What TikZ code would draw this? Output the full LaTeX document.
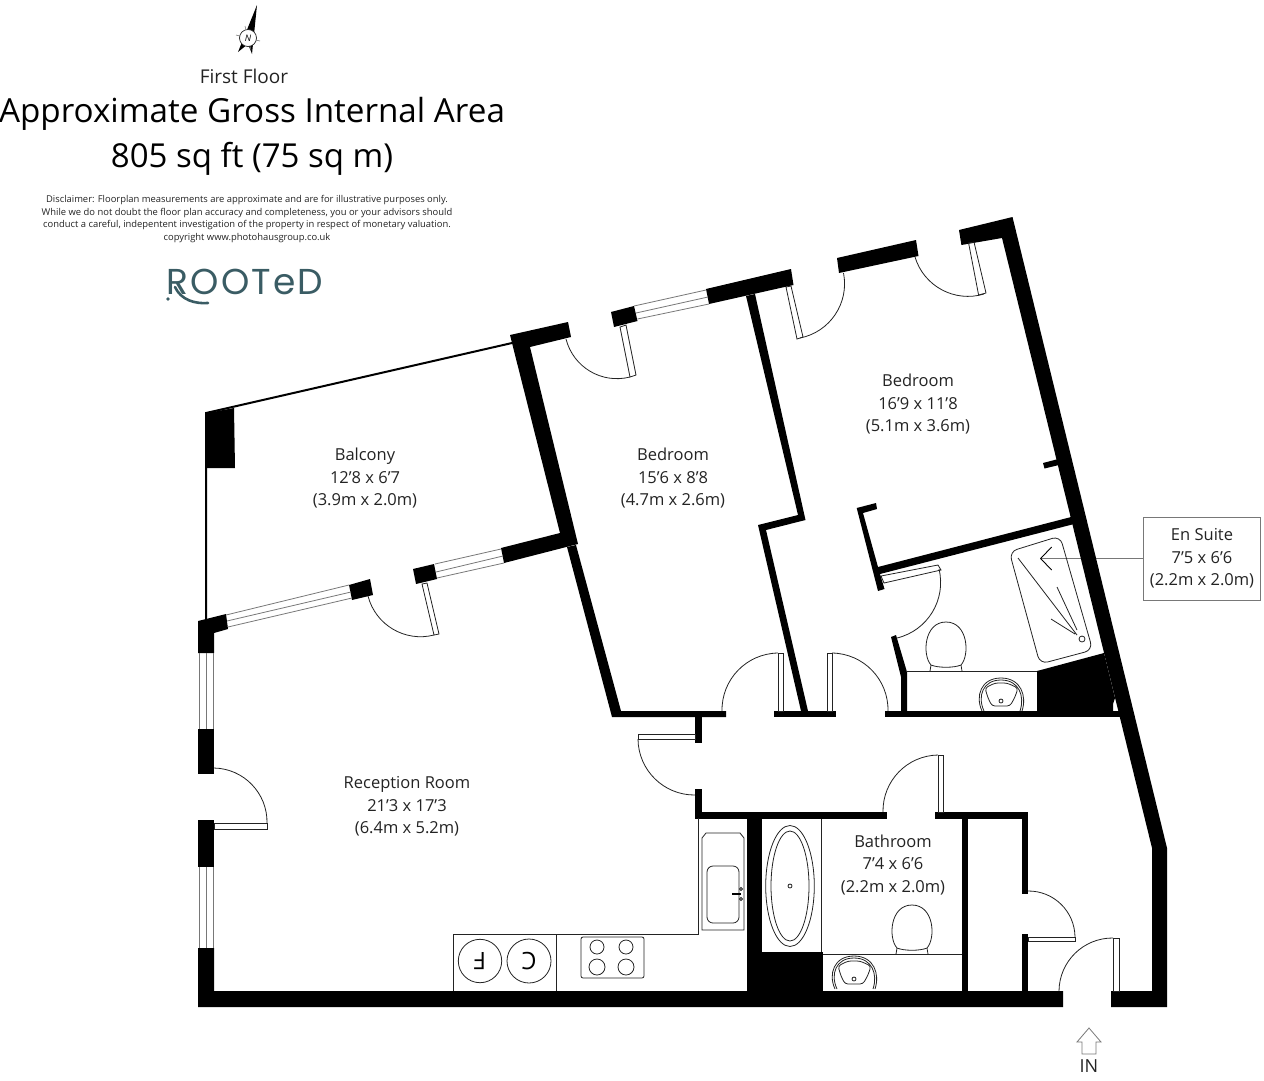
\documentclass[tikz,border=0pt]{standalone}
\usepackage{fontspec}
\setmainfont{Open Sans}
\newfontfamily\logofont{Poppins}
\usetikzlibrary{arrows.meta}
\definecolor{wallblack}{RGB}{0, 0, 0}
\definecolor{linedark}{RGB}{35, 35, 35}
\definecolor{glassgrey}{RGB}{120, 120, 120}
\definecolor{logoteal}{RGB}{58, 92, 100}
\tikzset{
  wall/.style={fill=wallblack},
  thinwall/.style={draw=wallblack, line width=2pt},
  fixture/.style={draw=linedark, line width=0.8pt},
  glass/.style={draw=glassgrey, line width=0.8pt},
  swing/.style={draw=linedark, line width=0.8pt},
  roomlabel/.style={align=center, inner sep=0pt, text=linedark, font=\fontsize{16.5}{22.5}\selectfont},
  toilet/.pic={
    \draw[fixture] (-15,-6) .. controls (-24,-16) and (-22,-49) .. (0,-49) .. controls (22,-49) and (24,-16) .. (15,-6) .. controls (8,-3) and (-8,-3) .. cycle;
    \draw[fixture] (-16,0) -- (-15,-6) (16,0) -- (15,-6);
  },
  basin/.pic={
    \draw[fixture] (-19,10) .. controls (-26,-5) and (-20,-23) .. (0,-23) .. controls (20,-23) and (26,-5) .. (21,10);
    \draw[fixture] (-17,10) .. controls (-24,-5) and (-18,-21) .. (0,-21) .. controls (18,-21) and (24,-5) .. (19,10);
    \draw[fixture, rounded corners=3pt] (-16,-13) -- (-6,-18) -- (6,-18) -- (17,-13) -- (14,-4) -- (9,5) -- (-9,5) -- (-13,-3) -- cycle;
    \draw[fixture] (0,0) circle (2);
  }
}

\begin{document}
\begin{tikzpicture}[x=1pt, y=-1pt]
  \useasboundingbox (0,0) rectangle (1264,1080);

  % headings
  \node[inner sep=0pt, text=linedark, font=\fontsize{19}{22}\selectfont] (floorname) at (244,76) {First Floor};
  \node[inner sep=0pt, font=\fontsize{33.2}{38}\selectfont] (areatitle) at (252,114) {Approximate Gross Internal Area};
  \node[inner sep=0pt, font=\fontsize{33}{38}\selectfont] (areavalue) at (252,159) {805 sq ft (75 sq m)};
  \node[inner sep=0pt, align=center, text=linedark, font=\fontsize{9.4}{12.6}\selectfont] (disclaimer) at (247,219) {Disclaimer: Floorplan measurements are approximate and are for illustrative purposes only.\\While we do not doubt the floor plan accuracy and completeness, you or your advisors should\\conduct a careful, indepentent investigation of the property in respect of monetary valuation.\\copyright www.photohausgroup.co.uk};

  % logo
  \node[inner sep=0pt, text=logoteal, font=\logofont\fontsize{36}{36}\selectfont\addfontfeature{LetterSpace=6}] (logo) at (245,282) {ROOTeD};
  \draw[logoteal, line width=2.6pt, line cap=round] (175,287) .. controls (181,300) and (195,304) .. (208,303);
  \fill[logoteal] (168,299) circle (1.8);

  % compass
  \fill[wallblack] (257,5) -- (252,54) -- (248,44) -- (238,52) -- cycle;
  \draw[glassgrey, line width=0.6pt] (236,35) -- (260,41) (245,26) -- (251,50);
  \draw[linedark, fill=white, line width=0.7pt] (248,38) circle (8.5);
  \node[inner sep=0pt, font=\fontsize{9}{9}\selectfont\itshape] (north) at (248,38) {N};

  % rooms
  \node[roomlabel] (balcony) at (365,478.5) {Balcony\\12’8 x 6’7\\(3.9m x 2.0m)};
  \node[roomlabel] (bedroomone) at (673,478.5) {Bedroom\\15’6 x 8’8\\(4.7m x 2.6m)};
  \node[roomlabel] (bedroomtwo) at (918,404.5) {Bedroom\\16’9 x 11’8\\(5.1m x 3.6m)};
  \node[roomlabel] (reception) at (407,806.5) {Reception Room\\21’3 x 17’3\\(6.4m x 5.2m)};
  \node[roomlabel] (bathroom) at (893,865) {Bathroom\\7’4 x 6’6\\(2.2m x 2.0m)};

  % en suite box and its pointer
  \node[roomlabel, draw=glassgrey, line width=0.8pt, minimum width=117pt, minimum height=83pt] (ensuite) at (1202,558.5) {En Suite\\7’5 x 6’6\\(2.2m x 2.0m)};
  \coordinate (ensuitetip) at (1040,558.5);
  \draw[glassgrey, line width=0.8pt, -{Straight Barb[black, length=11pt, width=23pt, line width=0.9pt]}] (ensuite) -- (ensuitetip);

  % outer walls
  \fill[wall] (198,948) -- (214,948) -- (214,991) -- (1063,991) -- (1063,1007) -- (198,1007) -- cycle;
  \fill[wall] (198,621) -- (226,614) -- (228,629) -- (214,633) -- (214,653) -- (198,653) -- cycle;
  \fill[wall] (198,729) rectangle (214,774);
  \fill[wall] (198,820) rectangle (214,867);
  \fill[wall] (959,230) -- (1012.5,217) -- (1167,848) -- (1167,1007) -- (1111,1007) -- (1111,991) -- (1152,991) -- (1152,848) -- (1002,238) -- (961.4,245) -- cycle;

  % balcony
  \draw[thinwall] (206,620) -- (206,413) -- (512,343);
  \fill[wall] (207,413) -- (234,408) -- (235,468) -- (207,468) -- cycle;
  \fill[wall] (510,335) -- (568,322) -- (571,337) -- (530,347) -- (578,544) -- (504,563) -- (501,548) -- (560,533) -- (512,343) -- cycle;
  \fill[wall] (349,585) -- (370,579) -- (373,595) -- (352,600) -- cycle;
  \fill[wall] (413,569) -- (434,564) -- (437,579) -- (416,584) -- cycle;

  % inner walls
  \fill[wall] (567,547) -- (576,545) -- (621,711) -- (726,711) -- (726,717) -- (612,717) -- cycle;
  \fill[wall] (611,312) -- (634,306) -- (637.5,321) -- (614,327) -- cycle;
  \fill[wall] (706,289) -- (791,269) -- (793.5,285) -- (709,304) -- cycle;
  \fill[wall] (837,258) -- (916,240) -- (918.5,256) -- (839,273) -- cycle;
  \fill[wall] (746,296) -- (755,294) -- (805.5,520) -- (766,530) -- (808,711) -- (801,711) -- (758,525) -- (798,515) -- cycle;
  \fill[wall] (1043,463) -- (1062,458) -- (1063,464) -- (1044.5,468.5) -- cycle;
  \fill[wall] (856.7,508) -- (876,503) -- (877,509) -- (863,513) -- (878,567) -- (1075,516) -- (1078,523) -- (880,574) -- (884.5,589) -- (878,591) -- cycle;
  \fill[wall] (891,637) -- (896,635) -- (907,672) -- (907,711) -- (901,711) -- (901,677) -- cycle;
  \fill[wall] (774,711) rectangle (836,717);
  \fill[wall] (885,711) rectangle (1125,717);
  \fill[wall] (1037,671) -- (1104,653) -- (1115,698) -- (1113,704) -- (1113,711) -- (1037,711) -- cycle;
  \fill[wall] (695,717) rectangle (702,743);
  \fill[wall] (695,789) rectangle (702,819);
  \fill[wall] (695,812) rectangle (887,819);
  \fill[wall] (935,812) rectangle (1028,819);
  \fill[wall] (747,818) rectangle (762,991);
  \fill[wall] (762,952) rectangle (823,991);
  \fill[wall] (962,819) rectangle (968,991);
  \fill[wall] (1022,812) rectangle (1028,894);
  \fill[wall] (1022,934) rectangle (1028,991);

  % windows
  \draw[glass] (226,615) -- (349,585) (227,621) -- (351,592) (228,627) -- (352,598);
  \draw[glass] (435,564) -- (501,549) (436,572) -- (503,556) (437,578) -- (504,563);
  \draw[glass] (634,306) -- (706,290) (636,313) -- (708,297) (637.5,319) -- (709,304);
  \draw[glass] (199,653) -- (199,729) (206,653) -- (206,729) (213,653) -- (213,729);
  \draw[glass] (199,867) -- (199,948) (206,867) -- (206,948) (213,867) -- (213,948);

  % door leaves
  \draw[swing] (422,584) -- (427,583) -- (439,634) -- (434,635) -- cycle;
  \draw[swing] (620,327) -- (626,325) -- (636,375) -- (630,377) -- cycle;
  \draw[swing] (786,287) -- (791,286) -- (803,337) -- (797,339) -- cycle;
  \draw[swing] (968.6,243) -- (974,242) -- (986,293) -- (978.6,295) -- cycle;
  \draw[swing] (881,576) -- (938,565) -- (941,570) -- (884,583) -- cycle;
  \draw[swing] (778,653) rectangle (783,711);
  \draw[swing] (827,653) rectangle (832,711);
  \draw[swing] (638,734) rectangle (695,739);
  \draw[swing] (938,755) rectangle (943,812);
  \draw[swing] (1028,937) rectangle (1075,941);
  \draw[swing] (1113,938) rectangle (1119,991);
  \draw[swing] (214,823) rectangle (267,829);

  % door swings
  \draw[swing] (368,596) to[bend right=45] (434,635);
  \draw[swing] (566,339) to[bend right=45] (630,377);
  \draw[swing] (800,338) to[bend right=45] (843.5,273);
  \draw[swing] (915,257) to[bend right=45] (984,294);
  \draw[swing] (939,569) to[bend left=45] (897,638);
  \draw[swing] (778,653) to[bend right=45] (722,711);
  \draw[swing] (832,653) to[bend left=45] (888,711);
  \draw[swing] (638,739) to[bend right=45] (695,795);
  \draw[swing] (938,755) to[bend right=45] (883,812);
  \draw[swing] (1028,891) to[bend left=45] (1075,937);
  \draw[swing] (1113,938) to[bend right=45] (1059,991);
  \draw[swing] (214,768) to[bend left=45] (267,823);

  % en suite fittings
  \draw[fixture, rounded corners=8pt] (1009.3,551.7) -- (1060,536) -- (1092.7,650) -- (1040,664) -- cycle;
  \draw[fixture] (1018,558) -- (1077,635) (1057,587) -- (1077,630) (1051,619) -- (1075,634);
  \draw[fixture] (1082,639) circle (3);
  \draw[fixture] (906,671) -- (1037,671);
  \pic at (946,671) {toilet};
  \pic at (1001,701) {basin};

  % bathroom fittings
  \draw[fixture] (821,819) -- (821,952);
  \draw[fixture] (823,954) -- (962,954);
  \draw[fixture] (790,886) ellipse (24.3 and 60.5);
  \draw[fixture] (790,886) ellipse (19 and 55);
  \draw[fixture] (790,886) circle (2);
  \pic at (912,954) {toilet};
  \pic at (854,979) {basin};

  % kitchen
  \draw[fixture] (698,818) -- (698,934) -- (453,934) -- (453,991);
  \draw[fixture] (556,934) -- (556,991);
  \draw[fixture] (480,961) circle (21.7);
  \draw[fixture] (529,961) circle (22);
  \node[inner sep=0pt, rotate=180, font=\fontsize{24}{24}\selectfont] (fridge) at (480,961) {F};
  \node[inner sep=0pt, rotate=180, font=\fontsize{24}{24}\selectfont] (cooler) at (529,961) {C};
  \draw[fixture, rounded corners=2pt] (581,937) rectangle (644,978);
  \draw[fixture] (597,947) circle (7) (626,947) circle (7) (597,967) circle (8) (626,967) circle (8);
  \draw[fixture] (702,930) -- (702,838) -- (706,833) -- (740,833) -- (744,838) -- (744,930) -- cycle;
  \draw[fixture, rounded corners=6pt] (707,866) rectangle (739,923);
  \draw[wallblack, line width=1.8pt] (732,894) -- (741,894);
  \draw[fixture] (741,889) circle (1.5) (741,899) circle (1.5);

  % way in
  \draw[glass] (1089,1028) -- (1101,1042) -- (1096,1042) -- (1096,1054) -- (1082,1054) -- (1082,1042) -- (1077,1042) -- cycle;
  \node[inner sep=0pt, text=linedark, font=\fontsize{18}{18}\selectfont] (wayin) at (1089,1066) {IN};
\end{tikzpicture}
\end{document}
